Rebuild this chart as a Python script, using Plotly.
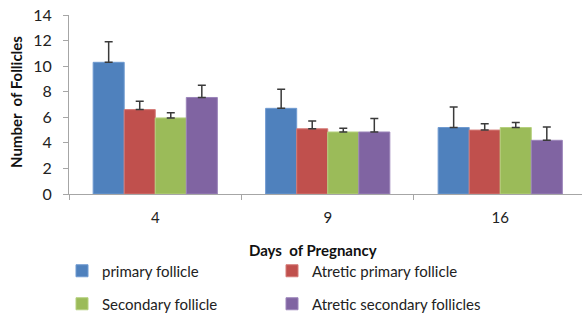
import plotly.graph_objects as go

days = ["4", "9", "16"]
series_names = ["primary follicle", "Atretic primary follicle",
                "Secondary follicle", "Atretic secondary follicles"]
primary = [10.3, 6.7, 5.2]
primary_err = [1.6, 1.5, 1.6]
atretic_primary = [6.6, 5.1, 5.0]
atretic_primary_err = [0.65, 0.6, 0.5]
secondary = [5.95, 4.85, 5.2]
secondary_err = [0.4, 0.3, 0.4]
atretic_secondary = [7.55, 4.85, 4.2]
atretic_secondary_err = [0.95, 1.05, 1.05]
y_ticks = [0, 2, 4, 6, 8, 10, 12, 14]

colors = ["#4F81BD", "#C0504D", "#9BBB59", "#8064A2"]
edge = ["#6F9AD0", "#D47A77", "#B5D07E", "#9B84BA"]
values = [primary, atretic_primary, secondary, atretic_secondary]
errors = [primary_err, atretic_primary_err, secondary_err, atretic_secondary_err]
legends = ["legend", "legend", "legend2", "legend2"]

FONT = "Lato, Calibri, Carlito, sans-serif"

fig = go.Figure()
for name, v, e, c, ed, lg in zip(series_names, values, errors, colors, edge, legends):
    fig.add_trace(go.Bar(
        x=days, y=v, name=name, legend=lg,
        marker=dict(color=c, line=dict(color=ed, width=1)),
        error_y=dict(type="data", array=e, symmetric=False, arrayminus=[None]*len(e),
                     color="#3a3a3a", thickness=1.5, width=4),
    ))

W, H = 582, 313
L, R, T, B = 69, 0, 15, 119
plot_h = H - T - B
plot_w = W - L - R

def py(pix):
    return (H - B - pix) / plot_h

def px(pix):
    return (pix - L) / plot_w

fig.update_layout(
    width=W, height=H,
    margin=dict(l=L, r=R, t=T, b=B, autoexpand=False),
    paper_bgcolor="white", plot_bgcolor="white",
    barmode="group", bargap=0.28, bargroupgap=0,
    font=dict(family=FONT, size=14, color="#222222"),
    xaxis=dict(
        type="category", range=[-0.5, 2.474],
        showline=True, linecolor="#A6A6A6", linewidth=1,
        ticks="outside", ticklen=5, tickcolor="#A6A6A6", tickson="boundaries",
        showgrid=False, zeroline=False,
        tickfont=dict(size=15, color="#222222"), ticklabelstandoff=10,
    ),
    yaxis=dict(
        range=[0, 14], tickvals=y_ticks,
        showline=True, linecolor="#A6A6A6", linewidth=1,
        ticks="outside", ticklen=5, tickcolor="#A6A6A6",
        showgrid=False, zeroline=False,
        tickfont=dict(size=16, color="#222222"), ticklabelstandoff=8,
    ),
    legend=dict(orientation="h", x=px(62), y=py(271), xanchor="left", yanchor="middle",
                entrywidth=165, entrywidthmode="pixels",
                font=dict(size=15, color="#222222"), bgcolor="rgba(0,0,0,0)"),
    legend2=dict(orientation="h", x=px(62), y=py(304), xanchor="left", yanchor="middle",
                 entrywidth=165, entrywidthmode="pixels",
                 font=dict(size=15, color="#222222"), bgcolor="rgba(0,0,0,0)"),
    showlegend=True,
)

fig.add_annotation(text="<b>Days  of Pregnancy</b>", xref="paper", yref="paper",
                   x=px(313), y=py(250), xanchor="center", yanchor="middle",
                   showarrow=False, font=dict(size=15, color="#111111"))
fig.add_annotation(text="<b>Number  of Follicles</b>", xref="paper", yref="paper",
                   x=px(16), y=py(102), xanchor="center", yanchor="middle",
                   showarrow=False, textangle=-90,
                   font=dict(size=15, color="#111111"))

fig.write_html("out.html", config={"displayModeBar": False},
               post_script="document.body.style.margin='0';document.body.style.padding='0';document.body.style.overflow='hidden';")
